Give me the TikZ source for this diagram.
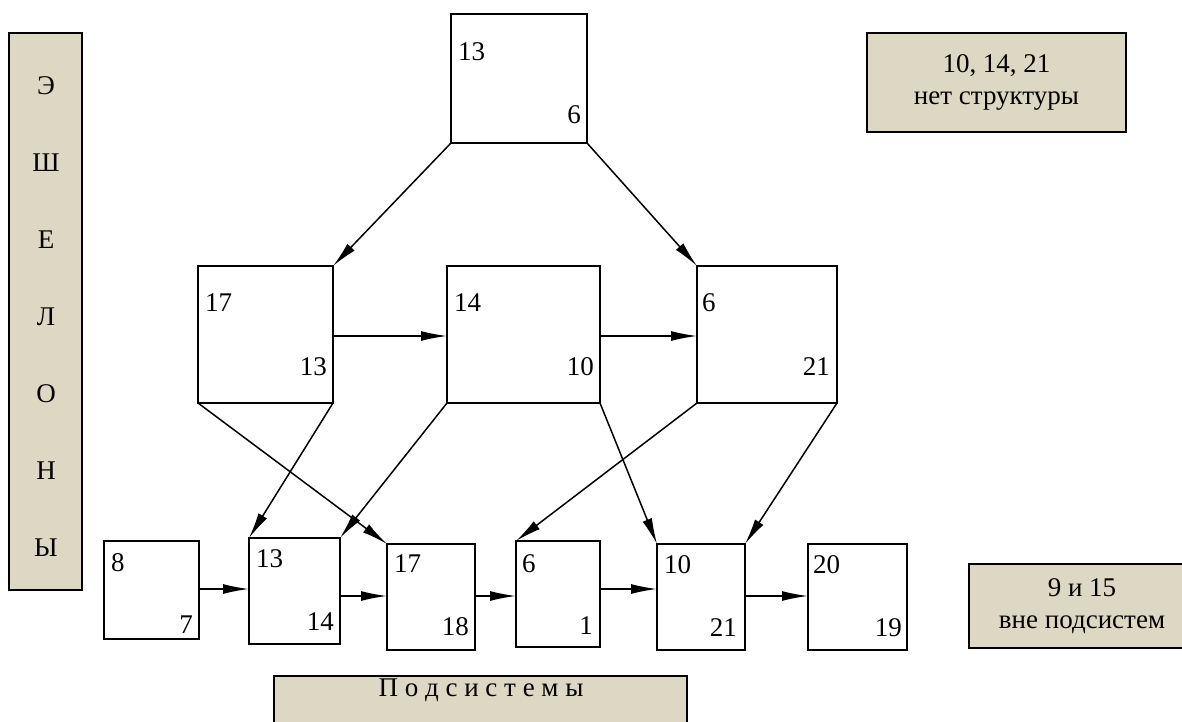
\documentclass[tikz,border=0pt]{standalone}
\usepackage{fontspec}
\setmainfont{Liberation Serif}
\usetikzlibrary{arrows.meta}
\definecolor{panel}{RGB}{220,216,195}
\begin{document}
\begin{tikzpicture}[x=1pt,y=-1pt,
  bx/.style={draw,line width=1.5pt,inner sep=0pt,outer sep=0pt,anchor=north west},
  panelbox/.style={draw,line width=1.8pt,fill=panel,inner sep=0pt,outer sep=0pt,anchor=north west},
  lbl/.style={inner sep=0pt,font=\fontsize{27}{32}\selectfont},
  lw/.style={lbl,anchor=west},
  le/.style={lbl,anchor=east},
  conn/.style={line width=1.5pt,-{Latex[length=26pt,width=10pt]}}]
\useasboundingbox (0,0) rectangle (1182,722);
\begin{scope}
\clip (0,0) rectangle (1182,722);
% side panel
\node[panelbox,minimum width=73pt,minimum height=557pt] (ech) at (9,33) {};
\foreach \t [count=\i from 0] in {Э,Ш,Е,Л,О,Н,Ы}
  \node[lbl] (ech\i) at (46,86+77*\i) {\t};
% right panels
\node[panelbox,minimum width=259pt,minimum height=99pt] (ns) at (867,33) {};
\node[lbl,align=center] (nst) at (ns.center) {10, 14, 21\\нет структуры};
\node[panelbox,minimum width=226pt,minimum height=84pt] (vp) at (969,564) {};
\node[lbl,align=center] (vpt) at (1082,606) {9 и 15\\вне подсистем};
% bottom panel
\node[panelbox,minimum width=413pt,minimum height=60pt] (ps) at (274,676) {};
\node[lbl] (pst) at (481,690) {П о д с и с т е м ы};
\end{scope}
% top
\node[bx,minimum width=136pt,minimum height=129pt] (t) at (451,14) {};
\node[lw] at (458,52) {13};
\node[le] at (581,115) {6};
% middle row
\node[bx,minimum width=135pt,minimum height=137pt] (a) at (198,266) {};
\node[lw] at (205,303) {17};
\node[le] at (327,367) {13};
\node[bx,minimum width=153pt,minimum height=137pt] (b) at (447,266) {};
\node[lw] at (454,303) {14};
\node[le] at (594,367) {10};
\node[bx,minimum width=140pt,minimum height=137pt] (c) at (697,266) {};
\node[lw] at (702,303) {6};
\node[le] at (830,367) {21};
% bottom row
\node[bx,minimum width=95pt,minimum height=98pt] (p) at (104,541) {};
\node[lw] at (111,563) {8};
\node[le] at (193,625) {7};
\node[bx,minimum width=91pt,minimum height=106pt] (q) at (249,538) {};
\node[lw] at (256,559) {13};
\node[le] at (334,622) {14};
\node[bx,minimum width=88pt,minimum height=106pt] (r) at (387,544) {};
\node[lw] at (394,564) {17};
\node[le] at (469,627) {18};
\node[bx,minimum width=84pt,minimum height=106pt] (s) at (516,541) {};
\node[lw] at (522,564) {6};
\node[le] at (593,626) {1};
\node[bx,minimum width=88pt,minimum height=106pt] (u) at (657,544) {};
\node[lw] at (664,565) {10};
\node[le] at (737,628) {21};
\node[bx,minimum width=99pt,minimum height=106pt] (v) at (808,544) {};
\node[lw] at (813,565) {20};
\node[le] at (902,628) {19};
% connectors
\draw[conn] (t.south west) -- (a.north east);
\draw[conn] (t.south east) -- (c.north west);
\draw[conn] (a.east |- 0,336) -- (b.west |- 0,336);
\draw[conn] (b.east |- 0,336) -- (c.west |- 0,336);
\draw[conn] (a.south west) -- (r.north west);
\draw[conn] (a.south east) -- (q.north west);
\draw[conn] (b.south west) -- (q.north east);
\draw[conn] (b.south east) -- (u.north west);
\draw[conn] (c.south west) -- (s.north west);
\draw[conn] (c.south east) -- (u.north east);
\draw[conn] (p.east |- 0,589) -- (q.west |- 0,589);
\draw[conn] (q.east |- 0,596) -- (r.west |- 0,596);
\draw[conn] (r.east |- 0,596) -- (s.west |- 0,596);
\draw[conn] (s.east |- 0,589) -- (u.west |- 0,589);
\draw[conn] (u.east |- 0,596) -- (v.west |- 0,596);
\end{tikzpicture}
\end{document}
